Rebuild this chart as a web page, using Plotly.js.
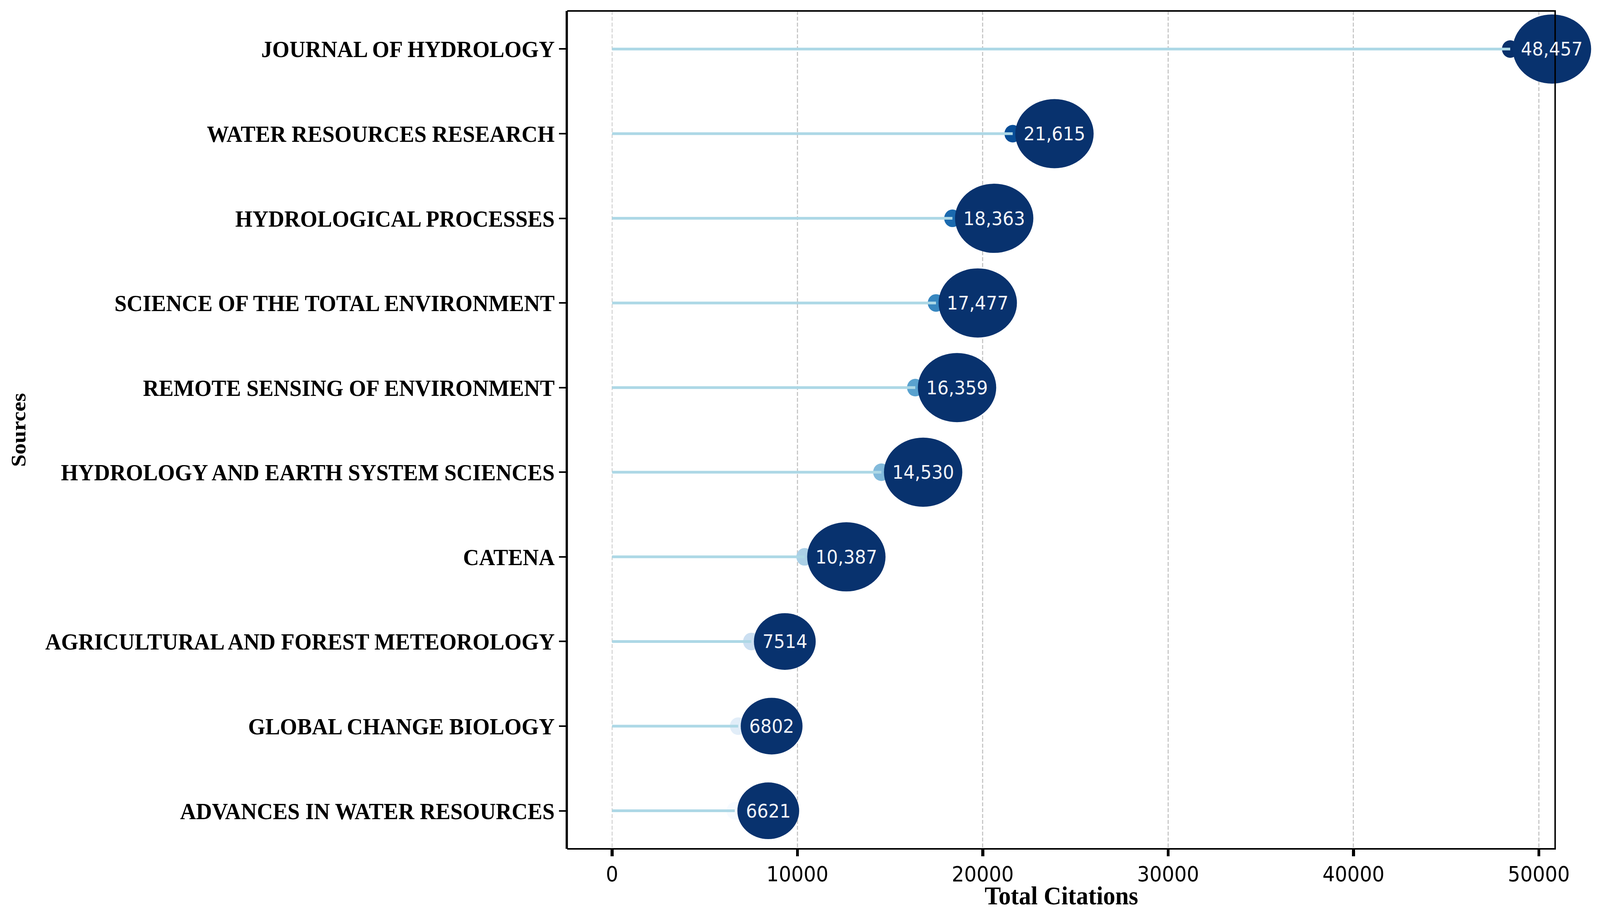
<!DOCTYPE html>
<html>
<head>
<meta charset="utf-8">
<script src="https://cdn.plot.ly/plotly-3.0.1.min.js"></script>
<style>
  html, body { margin: 0; padding: 0; background: #ffffff; overflow: hidden; }
  #chart { width: 4350px; height: 2331px; transform-origin: 0 0; }
</style>
</head>
<body>
<div id="chart"></div>
<script>
// ---- data ----
const sources = [
  "JOURNAL OF HYDROLOGY",
  "WATER RESOURCES RESEARCH",
  "HYDROLOGICAL PROCESSES",
  "SCIENCE OF THE TOTAL ENVIRONMENT",
  "REMOTE SENSING OF ENVIRONMENT",
  "HYDROLOGY AND EARTH SYSTEM SCIENCES",
  "CATENA",
  "AGRICULTURAL AND FOREST METEOROLOGY",
  "GLOBAL CHANGE BIOLOGY",
  "ADVANCES IN WATER RESOURCES"
];
const citations = [48457, 21615, 18363, 17477, 16359, 14530, 10387, 7514, 6802, 6621];
const xTicks = [0, 10000, 20000, 30000, 40000, 50000];

// ---- styles ----
const dotColors = ["#08306b", "#084d97", "#1b6aaf", "#3787c0", "#59a2cf",
                   "#82badb", "#abd0e6", "#cbdff1", "#e1edf8", "#f7fbff"];
const stemColor = "#add8e6";
const bubbleColor = "#08326e";

// fit the 4350x2331 design into the actual viewport
const W = 4350, H = 2331;
const sx = window.innerWidth / W, sy = window.innerHeight / H;
if (Math.abs(sx - 1) > 0.001 || Math.abs(sy - 1) > 0.001) {
  document.getElementById("chart").style.transform = "scale(" + sx + "," + sy + ")";
}

const idx = sources.map((_, i) => i);
const bubbleText = citations.map(v => v >= 10000 ? v.toLocaleString("en-US") : String(v));

// stems
const stemX = [], stemY = [];
citations.forEach((v, i) => { stemX.push(0, v, null); stemY.push(i, i, null); });

const dots = {
  type: "scatter", mode: "markers", x: citations, y: idx,
  marker: { size: 45, color: dotColors, line: { width: 0 } },
  hoverinfo: "skip", showlegend: false
};
const stems = {
  type: "scatter", mode: "lines", x: stemX, y: stemY,
  line: { color: stemColor, width: 7 },
  hoverinfo: "skip", showlegend: false
};

// bubbles (ellipses in pixel size anchored at each value)
const gapPx = 7;
const shapes = [];
const annotations = [];
citations.forEach((v, i) => {
  const n = bubbleText[i].length;
  const w = 78 + 22.5 * n;
  const h = 81 + 16 * n;
  shapes.push({
    type: "circle", xref: "x", yref: "y",
    xsizemode: "pixel", ysizemode: "pixel",
    xanchor: v, yanchor: i,
    x0: gapPx, x1: gapPx + w, y0: -h / 2, y1: h / 2,
    fillcolor: bubbleColor, line: { width: 0 }, layer: "above"
  });
  annotations.push({
    x: v, y: i, xref: "x", yref: "y", showarrow: false,
    xshift: gapPx + w / 2, xanchor: "center", yanchor: "middle",
    text: bubbleText[i],
    font: { family: "DejaVu Sans", size: 48, color: "#f2f4f8" }
  });
});

// frame (top, right, bottom) drawn at the axis range end
const frameMin = -2423, frameMax = 50880;
shapes.push({
  type: "rect", xref: "x", yref: "paper",
  x0: frameMin, x1: frameMax, y0: 0, y1: 1,
  line: { color: "#000000", width: 4 }, fillcolor: "rgba(0,0,0,0)", layer: "above"
});

// x-axis title centred under the framed area
annotations.push({
  x: (frameMin + frameMax) / 2, y: 0, xref: "x", yref: "paper",
  xanchor: "center", yanchor: "middle", yshift: -119, showarrow: false,
  text: "Total Citations",
  font: { family: "Liberation Serif", size: 66, weight: "bold", color: "#000000" }
});

const layout = {
  width: W, height: H,
  margin: { l: 1542, r: 0, t: 28, b: 159, pad: 0 },
  paper_bgcolor: "#ffffff", plot_bgcolor: "#ffffff",
  showlegend: false,
  xaxis: {
    range: [frameMin, 53301],
    tickvals: xTicks, ticktext: xTicks.map(String),
    showgrid: true, gridcolor: "#c8c8c8", gridwidth: 3, griddash: "10px,5px",
    zeroline: false, showline: false,
    ticks: "outside", ticklen: 18, tickwidth: 8, tickcolor: "#000000",
    tickfont: { family: "DejaVu Sans", size: 53, color: "#000000" }
  },
  yaxis: {
    range: [9.45, -0.45],
    tickvals: idx, ticktext: sources,
    showgrid: false, zeroline: false,
    showline: true, linecolor: "#000000", linewidth: 4,
    ticks: "outside", ticklen: 18, tickwidth: 4, tickcolor: "#000000",
    tickfont: { family: "Liberation Serif", size: 60, weight: "bold", color: "#000000" },
    title: { text: "Sources", standoff: 36,
             font: { family: "Liberation Serif", size: 57, weight: "bold", color: "#000000" } }
  },
  shapes: shapes,
  annotations: annotations
};

Plotly.newPlot("chart", [dots, stems], layout, { staticPlot: true, displayModeBar: false });
</script>
</body>
</html>
